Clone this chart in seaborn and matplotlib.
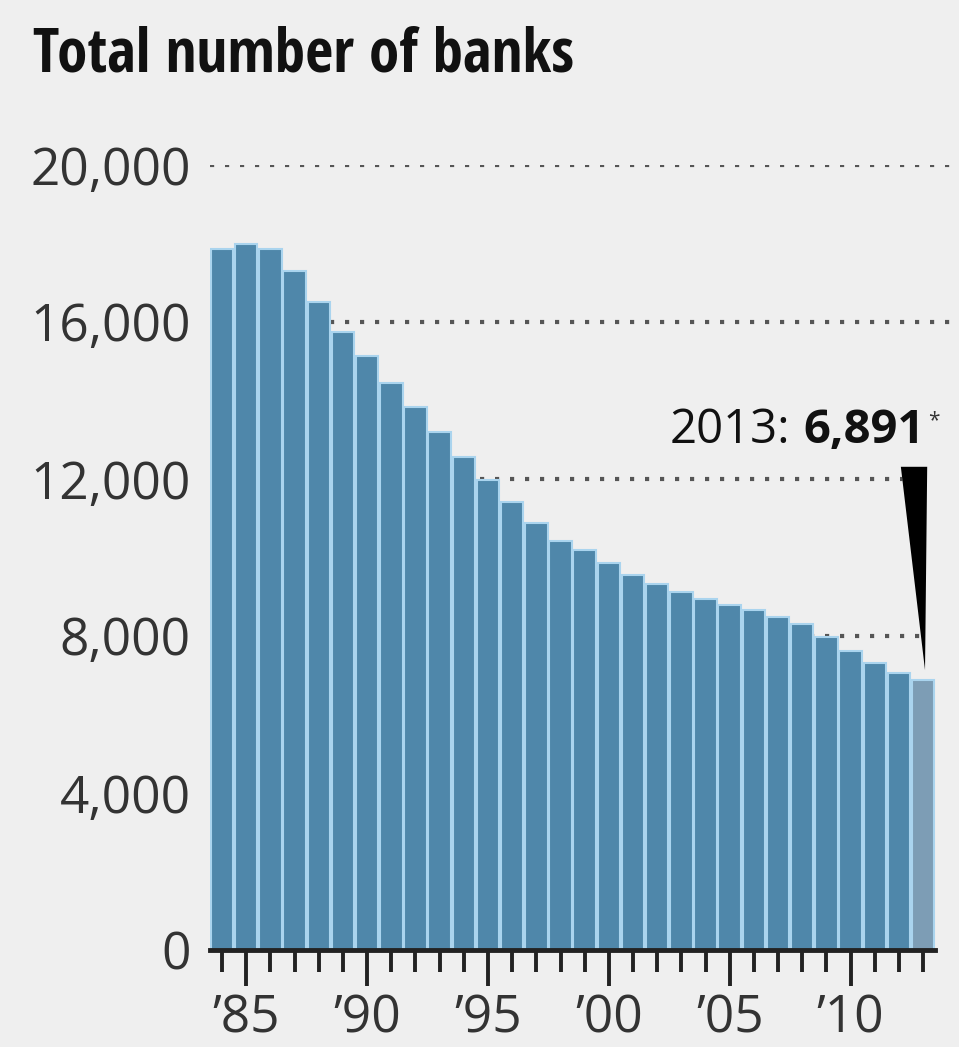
import matplotlib
matplotlib.use("Agg")
import matplotlib.pyplot as plt
from matplotlib import font_manager
import numpy as np
import pandas as pd
import seaborn as sns

# ---- data ----
years = list(range(1984, 2014))
banks = [17852, 17987, 17860, 17307, 16517, 15753, 15134, 14453, 13827, 13205,
         12573, 11975, 11422, 10886, 10428, 10191, 9852, 9554, 9317, 9129,
         8943, 8790, 8662, 8492, 8298, 7982, 7625, 7320, 7050, 6891]
y_ticks = [0, 4000, 8000, 12000, 16000, 20000]
y_tick_labels = ["0", "4,000", "8,000", "12,000", "16,000", "20,000"]
x_label_years = [1985, 1990, 1995, 2000, 2005, 2010]
x_tick_labels = ["\u201985", "\u201990", "\u201995", "\u201900", "\u201905", "\u201910"]
title = "Total number of banks"
note_year = "2013:"
note_value = "6,891"

# ---- style ----
BG = "#efefef"
BAR = "#4f87aa"
BAR_LAST = "#7d9db5"
EDGE = "#aad4ee"
INK = "#222222"
TXT = "#333333"

sns.set_style("white")
ttf = font_manager.fontManager.ttflist
names = {f.name for f in ttf}
NUMFONT = "Open Sans" if "Open Sans" in names else "DejaVu Sans"

# prefer a condensed/narrow face for the title if one is installed
TITLEFONT, TITLESTRETCH = None, "normal"
for cand in ["Liberation Sans Narrow", "Open Sans Condensed", "Noto Sans Condensed",
             "Roboto Condensed", "DejaVu Sans Condensed", "Noto Sans SemiCondensed"]:
    if cand in names:
        TITLEFONT = cand
        break
if TITLEFONT is None:
    for fam in ["Noto Sans", "DejaVu Sans", "Open Sans", "Roboto"]:
        if any(f.name == fam and f.stretch in ("condensed", "semi-condensed", 75, 87.5)
               for f in ttf):
            TITLEFONT, TITLESTRETCH = fam, "condensed"
            break
if TITLEFONT is None:
    TITLEFONT = "Lato" if "Lato" in names else NUMFONT

plt.rcParams["font.family"] = [NUMFONT, "DejaVu Sans"]

W, H = 959, 1047
fig = plt.figure(figsize=(W / 100, H / 100), dpi=100, facecolor=BG)
ax = fig.add_axes([210 / W, 97 / H, (957 - 210) / W, 785 / H], facecolor=BG)

df = pd.DataFrame({"year": [str(y) for y in years], "banks": banks})
palette = [BAR] * (len(years) - 1) + [BAR_LAST]
sns.barplot(data=df, x="year", y="banks", hue="year", palette=palette, legend=False,
            width=0.93, edgecolor=EDGE, linewidth=1.5, saturation=1, ax=ax, zorder=2)

n = len(years)
xmax = -0.5 + (957 - 210) / ((923 - 222) / (n - 1))
ax.set_xlim(-0.5, xmax)
ax.set_ylim(0, 20000)

# grid (dotted)
ax.set_yticks(y_ticks)
ax.set_yticklabels(y_tick_labels, fontsize=37, color=TXT, family=NUMFONT)
for v in y_ticks[1:]:
    right = xmax if v >= 8000 else n - 0.5
    ax.hlines(v, -0.5, right, color="#555555", lw=3, linestyle=(0, (1, 2.6)), zorder=0.5)

# wedge pointer + mask behind it
last = n - 1
lv = banks[-1]
top_y = lv + 5420
tip = (last + 0.08, lv + 240)
wl, wr = last - 0.92, last + 0.17
ax.fill([wl, xmax, xmax, tip[0]], [top_y, top_y, tip[1], tip[1]], color=BG, zorder=0.8, lw=0)
ax.fill([wl, wr, tip[0]], [top_y, top_y, tip[1]], color="black", zorder=3, lw=0)

# x ticks
pos_major = [years.index(y) for y in x_label_years]
ax.set_xticks(pos_major)
ax.set_xticklabels(x_tick_labels, fontsize=37, color=TXT, family=NUMFONT)
ax.set_xticks(range(n), minor=True)
ax.tick_params(axis="x", which="both", bottom=True, direction="out", color=INK, width=2.8)
ax.tick_params(axis="x", which="major", length=26, pad=5)
ax.tick_params(axis="x", which="minor", length=16)
ax.tick_params(axis="y", left=False, length=0, pad=14)
ax.set_xlabel("")
ax.set_ylabel("")

for s in ["top", "right", "left"]:
    ax.spines[s].set_visible(False)
ax.spines["bottom"].set_bounds(-0.5, n - 0.5)
ax.spines["bottom"].set_linewidth(3.5)
ax.spines["bottom"].set_color(INK)
ax.spines["bottom"].set_zorder(4)

# title
t = fig.text(33 / W, (H - 72) / H, title, fontsize=40, fontweight="bold", color="#111111",
             family=[TITLEFONT, "DejaVu Sans"], fontstretch=TITLESTRETCH,
             va="baseline", ha="left")
fig.canvas.draw()
bb = t.get_window_extent(fig.canvas.get_renderer())
t.set_fontsize(min(44, 40 * 575 / bb.width))

# annotation
base = (H - 443) / H
tv = fig.text(925 / W, base, note_value, fontsize=34, fontweight="bold", color="#111111",
              va="baseline", ha="right", family=NUMFONT)
fig.canvas.draw()
bv = tv.get_window_extent(fig.canvas.get_renderer())
fig.text((bv.x0 - 13) / W, base, note_year, fontsize=34, color="#111111",
         va="baseline", ha="right", family=NUMFONT)
fig.text(928 / W, (H - 410) / H, "*", fontsize=15, color="#333333", va="top", ha="left",
         family=NUMFONT)

fig.savefig("out.png", dpi=100, facecolor=BG)
